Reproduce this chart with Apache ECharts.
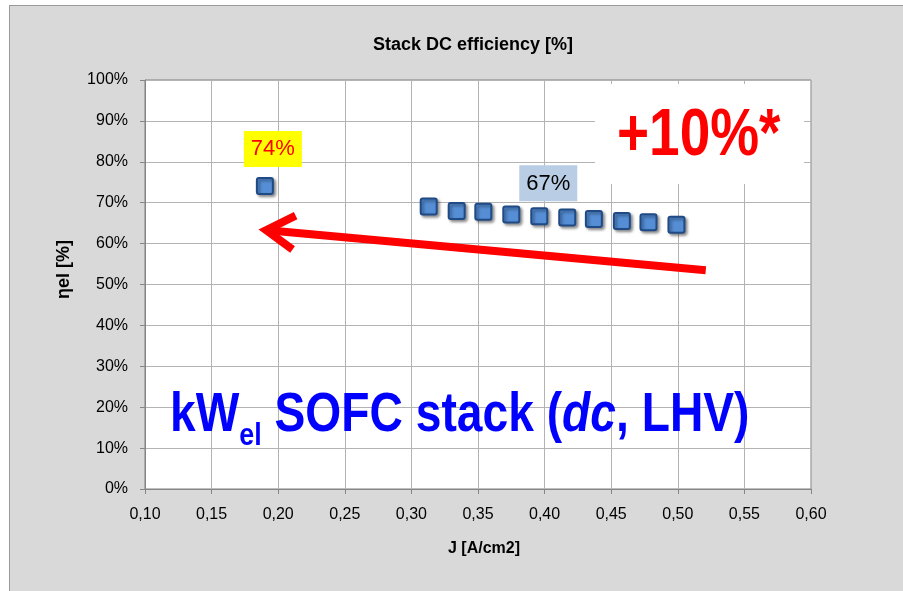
<!DOCTYPE html>
<html>
<head>
<meta charset="utf-8">
<script src="https://cdn.jsdelivr.net/npm/echarts@6/dist/echarts.min.js"></script>
<style>
  html, body { margin: 0; padding: 0; background: #ffffff; }
  #frame { position: absolute; left: 9px; top: 5px; width: 900px; height: 590px;
           background: #d9d9d9; border-left: 1px solid #9a9a9a; border-top: 1px solid #9a9a9a; }
  #chart { position: absolute; left: 0; top: 0; width: 903px; height: 591px; }
</style>
</head>
<body>
<div id="frame"></div>
<div id="chart"></div>
<script>
// ---- data ----
const xTickLabels = ['0,10','0,15','0,20','0,25','0,30','0,35','0,40','0,45','0,50','0,55','0,60'];
const refJ = [0.19];
const refEff = [74.1];
const refLabel = ['74%'];
const stackJ = [0.313, 0.334, 0.354, 0.375, 0.396, 0.417, 0.437, 0.458, 0.478, 0.499];
const stackEff = [69.1, 68.0, 67.8, 67.1, 66.7, 66.4, 66.0, 65.5, 65.2, 64.6];
const stackLabel = ['67%'];
const stackLabelIndex = 4;
const arrowFrom = [0.521, 53.5];
const arrowTo = [0.191, 63.3];
const boxArea = [[0.4378, 99.0], [0.5948, 74.6]];
const titleText = 'Stack DC efficiency [%]';
const xName = 'J [A/cm2]';
const yName = 'ηel [%]';
const bigNote = '+10%*';

const FONT = '"Liberation Sans", Arial, sans-serif';
const chart = echarts.init(document.getElementById('chart'), null, { renderer: 'canvas' });

const markerSymbol = 'path://M2,0 L14,0 Q16,0 16,2 L16,14 Q16,16 14,16 L2,16 Q0,16 0,14 L0,2 Q0,0 2,0 Z';
const markerStyle = {
  color: '#558ed5',
  opacity: 1,
  borderColor: '#1f4a85',
  borderWidth: 2,
  shadowBlur: 3,
  shadowOffsetX: 2,
  shadowOffsetY: 2,
  shadowColor: 'rgba(0,0,0,0.4)'
};

const stackData = stackJ.map((x, i) => {
  const d = { value: [x, stackEff[i]] };
  if (i === stackLabelIndex) {
    d.label = {
      show: true, position: 'top', distance: 6, offset: [9, 0],
      formatter: stackLabel[0], color: '#000', fontSize: 22, fontFamily: FONT,
      backgroundColor: '#b9cde5', padding: [5, 7, 4, 7], lineHeight: 27
    };
  }
  return d;
});

const option = {
  backgroundColor: 'transparent',
  animation: false,
  textStyle: { fontFamily: FONT },
  title: {
    text: titleText, left: 468, top: 31, textAlign: 'center',
    textStyle: { fontSize: 18, fontWeight: 'bold', color: '#000', fontFamily: FONT }
  },
  grid: {
    left: 145, right: 92, top: 80, bottom: 102,
    show: true, backgroundColor: '#ffffff', borderColor: '#7f7f7f', borderWidth: 1
  },
  xAxis: {
    type: 'value', min: 0.1, max: 0.6, interval: 0.05,
    name: xName, nameLocation: 'middle', nameGap: 52,
    nameTextStyle: { fontSize: 16, fontWeight: 'bold', color: '#000', fontFamily: FONT, padding: [0, 0, 0, 12] },
    axisLine: { show: true, lineStyle: { color: '#868686', width: 1 } },
    axisTick: { show: true, inside: false, length: 5, lineStyle: { color: '#868686' } },
    axisLabel: {
      margin: 18, fontSize: 16, color: '#000', fontFamily: FONT,
      formatter: (v) => xTickLabels[Math.round((v - 0.1) / 0.05)]
    },
    splitLine: { show: true, lineStyle: { color: '#b3b3b3', width: 1 } }
  },
  yAxis: {
    type: 'value', min: 0, max: 100, interval: 10,
    name: yName, nameLocation: 'middle', nameGap: 72, nameRotate: 90,
    nameTextStyle: { fontSize: 18, fontWeight: 'bold', color: '#000', fontFamily: FONT, padding: [0, 0, 0, 30] },
    axisLine: { show: true, lineStyle: { color: '#868686', width: 1 } },
    axisTick: { show: true, inside: false, length: 5, lineStyle: { color: '#868686' } },
    axisLabel: { margin: 17, fontSize: 16, color: '#000', fontFamily: FONT, formatter: '{value}%' },
    splitLine: { show: true, lineStyle: { color: '#b3b3b3', width: 1 } }
  },
  series: [
    {
      type: 'scatter', name: 'box', data: [], silent: true,
      markArea: {
        silent: true,
        itemStyle: { color: '#ffffff', opacity: 1 },
        data: [[{ coord: boxArea[0] }, { coord: boxArea[1] }]]
      }
    },
    {
      type: 'custom', name: 'arrow', silent: true, z: 3,
      data: [[arrowFrom[0], arrowFrom[1], arrowTo[0], arrowTo[1]]],
      renderItem: (params, api) => {
        const p1 = api.coord([api.value(0), api.value(1)]);
        const p2 = api.coord([api.value(2), api.value(3)]);
        const dx = p1[0] - p2[0], dy = p1[1] - p2[1];
        const len = Math.sqrt(dx * dx + dy * dy);
        const ux = dx / len, uy = dy / len;
        const nx = -uy, ny = ux;
        const armBack = 28, armSide = 17;
        const a1 = [p2[0] + ux * armBack + nx * armSide, p2[1] + uy * armBack + ny * armSide];
        const a2 = [p2[0] + ux * armBack - nx * armSide, p2[1] + uy * armBack - ny * armSide];
        const st = { stroke: '#ff0000', lineWidth: 8, fill: 'none', lineCap: 'butt', lineJoin: 'miter' };
        return {
          type: 'group',
          children: [
            { type: 'line', shape: { x1: p1[0], y1: p1[1], x2: p2[0] + ux * 4, y2: p2[1] + uy * 4 }, style: st },
            { type: 'polyline', shape: { points: [a1, p2, a2] }, style: st }
          ]
        };
      }
    },
    {
      type: 'scatter', name: 'ref', z: 4,
      symbol: markerSymbol, symbolSize: 16,
      itemStyle: markerStyle,
      data: refJ.map((x, i) => ({
        value: [x, refEff[i]],
        label: {
          show: true, position: 'top', distance: 10, offset: [8, 0],
          formatter: refLabel[i], color: '#ff0000', fontSize: 22, fontFamily: FONT,
          backgroundColor: '#ffff00', padding: [5, 7, 4, 7], lineHeight: 27
        }
      }))
    },
    {
      type: 'scatter', name: 'stack', z: 4,
      symbol: markerSymbol, symbolSize: 16,
      itemStyle: markerStyle,
      data: stackData
    }
  ],
  graphic: [
    {
      type: 'text', x: 617, y: 137, scaleX: 0.82, z: 10,
      style: {
        text: bigNote, fill: '#ff0000', fontFamily: FONT, fontSize: 67, fontWeight: 'bold',
        textAlign: 'left', textVerticalAlign: 'middle'
      }
    },
    {
      type: 'text', x: 170, y: 420, scaleX: 0.84, z: 10,
      style: {
        text: '{a|kW}{b|el}{a| SOFC stack (}{c|dc}{a|, LHV)}',
        textAlign: 'left', textVerticalAlign: 'middle',
        fill: '#0000ff',
        rich: {
          a: { fontFamily: FONT, fontSize: 55, fontWeight: 'bold', fill: '#0000ff', color: '#0000ff', lineHeight: 64, verticalAlign: 'top' },
          b: { fontFamily: FONT, fontSize: 32, fontWeight: 'bold', fill: '#0000ff', color: '#0000ff', lineHeight: 38, verticalAlign: 'bottom' },
          c: { fontFamily: FONT, fontSize: 55, fontWeight: 'bold', fontStyle: 'italic', fill: '#0000ff', color: '#0000ff', lineHeight: 64, verticalAlign: 'top' }
        }
      }
    }
  ]
};
chart.setOption(option);
</script>
</body>
</html>
